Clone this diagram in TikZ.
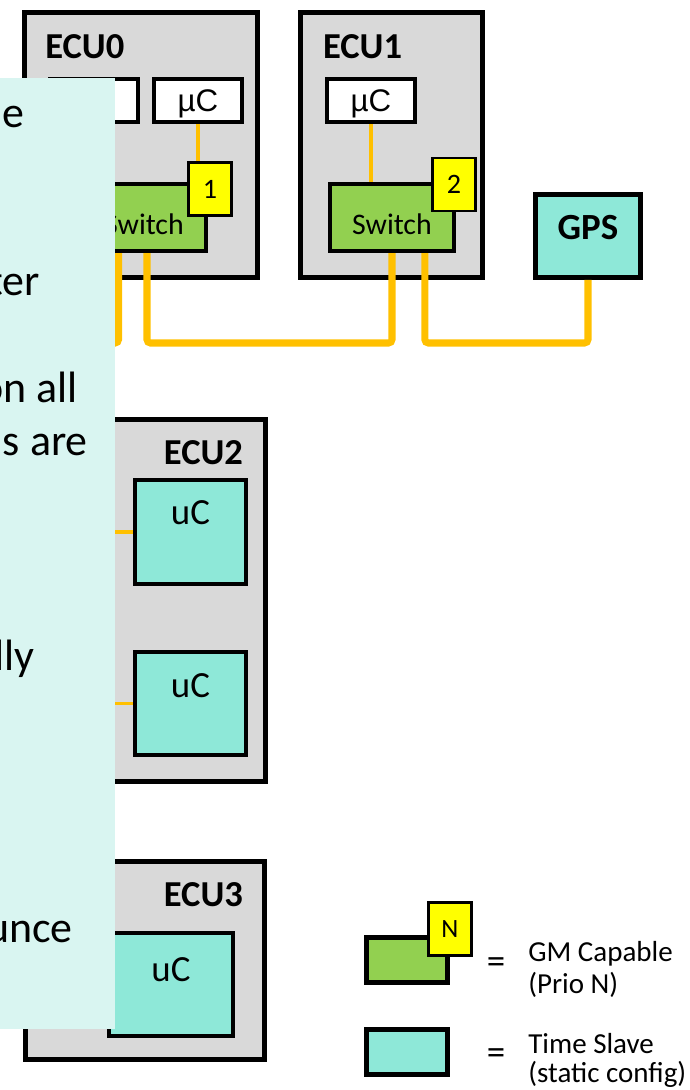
\documentclass[tikz,border=0pt]{standalone}
\usepackage{fontspec}
\setmainfont{Carlito}
\newfontfamily\arialfont{Liberation Sans}
\usepackage{tikz}
\usetikzlibrary{positioning}
\usepackage{xcolor}

\definecolor{ecugray}{HTML}{D9D9D9}
\definecolor{gmgreen}{HTML}{92D050}
\definecolor{prioyellow}{HTML}{FFFF00}
\definecolor{tscyan}{HTML}{8EE8D8}
\definecolor{wire}{HTML}{FFC000}
\definecolor{notecyan}{HTML}{D9F5F1}

\begin{document}
\begin{tikzpicture}[
    x=0.02cm, y=-0.02cm,
    ecu/.style={draw, line width=2.8pt, fill=ecugray, inner sep=0pt},
    mcu/.style={draw, line width=2.3pt, fill=white, minimum width=1.76cm, minimum height=0.86cm, text depth=0pt, font=\arialfont\fontsize{17.8}{20}\selectfont},
    sw/.style={draw, line width=2.3pt, fill=gmgreen, minimum width=2.48cm, minimum height=1.34cm, inner sep=0pt},
    prio/.style={draw, line width=1.5pt, fill=prioyellow, minimum width=0.86cm, minimum height=1.06cm, inner sep=0pt, font=\fontsize{16}{18}\selectfont},
    ts/.style={draw, line width=2.3pt, fill=tscyan, inner sep=0pt},
    ecuname/.style={inner sep=0pt, font=\bfseries\fontsize{20.8}{24}\selectfont},
    lbl/.style={inner sep=0pt, font=\fontsize{17}{20}\selectfont},
    ulbl/.style={inner sep=0pt, font=\fontsize{21}{24}\selectfont},
    frag/.style={inner sep=0pt, anchor=base east, font=\fontsize{25}{30}\selectfont},
    bus/.style={draw=wire, line width=4pt, rounded corners=2pt},
    link/.style={draw=wire, line width=2pt}
  ]
    \path[use as bounding box, clip] (0,0) rectangle (690,1090);

    % ECUs
    \node[ecu, minimum width=4.66cm, minimum height=5.3cm] (e0) at (141,145) {};
    \node[ecu, minimum width=3.64cm, minimum height=5.3cm] (e1) at (391.5,145) {};
    \node[ecu, minimum width=4.82cm, minimum height=7.24cm] (e2) at (145,600.5) {};
    \node[ecu, minimum width=4.78cm, minimum height=3.96cm] (e3) at (145,960.5) {};
    \node[ecuname, below right=14pt and 13pt of e0.north west] (n0) {ECU0};
    \node[ecuname, below right=14pt and 14pt of e1.north west] (n1) {ECU1};
    \node[ecuname, below left=13pt and 14pt of e2.north east] (n2) {ECU2};
    \node[ecuname, below left=13pt and 13.5pt of e3.north east] (n3) {ECU3};

    % ECU0 / ECU1 internals
    \node[mcu] (m0a) at (94,100.5) {};
    \node[mcu] (m0b) at (198,100.5) {µC};
    \node[mcu] (m1) at (371,100.5) {µC};
    \node[sw] (s0) at (144,217.5) {};
    \node[lbl, above=10pt of s0.south] (t0) {Switch};
    \node[sw] (s1) at (392,217.5) {};
    \node[lbl, above=10pt of s1.south] (t1) {Switch};
    \node[prio] (p0) at (210,189) {1};
    \node[prio] (p1) at (454,184.5) {2};

    % time slaves
    \node[ts, minimum width=2.1cm, minimum height=1.66cm, line width=2.8pt] (gps) at (588,236) {};
    \node[ecuname, font=\bfseries\fontsize{21}{24}\selectfont, below=13pt of gps.north] (g) {GPS};
    \node[ts, minimum width=2.22cm, minimum height=2.08cm] (u20) at (190.5,532) {};
    \node[ulbl, below=12.5pt of u20.north] (l20) {uC};
    \node[ts, minimum width=2.22cm, minimum height=2.06cm] (u21) at (190.5,703.5) {};
    \node[ulbl, below=13pt of u21.north] (l21) {uC};
    \node[ts, minimum width=2.48cm, minimum height=2.06cm] (u3) at (171,984.5) {};
    \node[ulbl, below=14.7pt of u3.north] (l3) {uC};

    % wires
    \coordinate (trunk) at (0,343);
    \draw[link] (m0b.south) -- (m0b.south |- p0.north);
    \draw[link] (m1.south) -- (m1.south |- s1.north);
    \draw[bus] ([xshift=-14.5pt]s0.south) |- (trunk -| 60,0);
    \draw[bus] ([xshift=1.7pt]s0.south) |- (trunk -| s1.south) -- (s1.south);
    \draw[bus] ([xshift=18.7pt]s1.south) |- (trunk -| gps.south) -- (gps.south);
    \draw[link] (u20.west -| 100,0) -- (u20.west);
    \draw[link] (u21.west -| 100,0) -- (u21.west);

    % legend
    \node[sw, minimum width=1.62cm, minimum height=0.9cm, line width=2.8pt] (lg) at (407,960) {};
    \node[prio, font=\fontsize{15}{18}\selectfont] (lp) at (450,929) {N};
    \node[lbl, font=\fontsize{21}{24}\selectfont] (eq0) at (496,966) {=};
    \node[lbl, align=left, anchor=north west, font=\fontsize{16.5}{18}\selectfont] (gm) at (528,941) {GM Capable\\(Prio N)};
    \node[ts, minimum width=1.62cm, minimum height=0.9cm, line width=2.8pt] (lt) at (407,1052) {};
    \node[lbl, font=\fontsize{21}{24}\selectfont] (eq1) at (496,1057) {=};
    \node[lbl, align=left, anchor=north west, font=\fontsize{16.5}{16.4}\selectfont] (tsl) at (528,1033) {Time Slave\\(static config)};

    % note panel on top
    \node[fill=notecyan, inner sep=0pt, minimum width=2.3cm, minimum height=19.02cm] (note) at (57.5,553.5) {};
    \node[frag] (f1) at (25,127) {e};
    \node[frag] (f2) at (40,295) {ter};
    \node[frag] (f3) at (78,402) {on all};
    \node[frag] (f4) at (88,455) {s are};
    \node[frag] (f5) at (35,670) {lly};
    \node[frag] (f6) at (73,942) {unce};
\end{tikzpicture}
\end{document}
